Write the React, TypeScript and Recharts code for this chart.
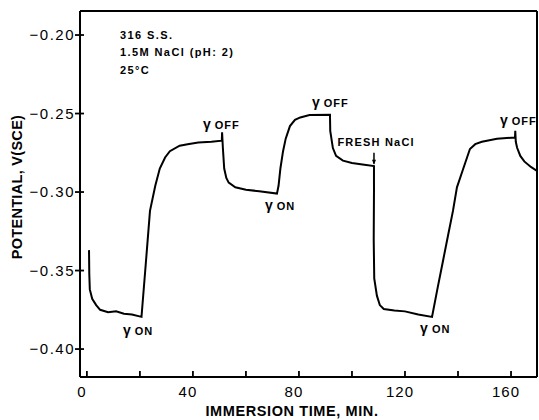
import React from 'react'
import { LineChart, Line, XAxis, YAxis, ReferenceLine, ReferenceDot } from 'recharts'

// immersion time (min) vs potential (V vs SCE)
const times = [
  0.8, 0.9, 1.1, 2, 3.5, 5, 8, 11, 14, 17, 20.6,
  22.2, 23.8, 25.8, 27.5, 29.5, 31.3, 35, 38, 42, 47, 50.9,
  51, 51.3, 51.8, 52.6, 53.5, 56, 60, 65, 71.7,
  72.3, 73, 74, 75, 76.6, 78.5, 80.5, 84, 91.7,
  91.8, 92.8, 94, 96.6, 100, 104, 108.3,
  108.3, 108.2, 108.4, 109.4, 110.5, 112, 116, 120, 125, 130.2,
  132.2, 134.2, 136.2, 138.1, 139.6, 142, 144.5, 146.5, 149, 154.7, 161.5,
  161.6, 161.8, 162.3, 163.5, 165, 167.5, 169.8,
]
const potentials = [
  -0.337, -0.352, -0.362, -0.368, -0.372, -0.375, -0.3765, -0.376, -0.3775, -0.378, -0.3795,
  -0.346, -0.312, -0.296, -0.285, -0.278, -0.274, -0.2705, -0.2695, -0.2685, -0.268, -0.2673,
  -0.262, -0.272, -0.285, -0.291, -0.294, -0.297, -0.2985, -0.2995, -0.301,
  -0.296, -0.285, -0.274, -0.266, -0.258, -0.254, -0.2525, -0.251, -0.2508,
  -0.261, -0.272, -0.277, -0.28, -0.2815, -0.2825, -0.2835,
  -0.3, -0.33, -0.355, -0.366, -0.372, -0.3745, -0.3755, -0.376, -0.378, -0.3795,
  -0.362, -0.345, -0.328, -0.312, -0.297, -0.285, -0.2726, -0.2695, -0.268, -0.266, -0.2653,
  -0.261, -0.268, -0.2718, -0.277, -0.2805, -0.284, -0.2865,
]

const xTicks = [0, 20, 40, 60, 80, 100, 120, 140, 160]
const yTicks = [-0.4, -0.35, -0.3, -0.25, -0.2]

const notes = [
  { t: 12.5, v: -0.2026, text: '316 S.S.' },
  { t: 12.5, v: -0.2135, text: '1.5M NaCl (pH: 2)' },
  { t: 12.5, v: -0.2248, text: '25°C' },
]
const gammaLabels = [
  { t: 13.6, v: -0.391, state: 'ON' },
  { t: 43.8, v: -0.2596, state: 'OFF' },
  { t: 67.2, v: -0.3115, state: 'ON' },
  { t: 84.9, v: -0.246, state: 'OFF' },
  { t: 125.7, v: -0.39, state: 'ON' },
  { t: 155.8, v: -0.257, state: 'OFF' },
]
const freshNote = { t: 94.5, v: -0.2705, text: 'FRESH NaCl' }
const freshArrow = { t: 108.3, v: -0.275 }

const data = times.map((t, i) => ({ t, v: potentials[i] }))

const X_MIN = -2.6
const X_MAX = 169.8
const Y_MIN = -0.4178
const Y_MAX = -0.1847

const FONT = '"Liberation Sans", Arial, Helvetica, sans-serif'

const fmtY = (v: number) => '−' + Math.abs(v).toFixed(2)

function XTick(props: any) {
  const { x, y, payload } = props
  const show = payload.value % 40 === 0
  return (
    <g>
      <line x1={x} y1={y} x2={x} y2={y - 6} stroke="#000" strokeWidth={1.8} />
      {show && (
        <text x={x - 5} y={y + 20} textAnchor="middle" fontSize={15} letterSpacing={1} fill="#000" fontFamily={FONT}>
          {payload.value}
        </text>
      )}
    </g>
  )
}

function YTick(props: any) {
  const { x, y, payload } = props
  return (
    <g>
      <line x1={x - 5} y1={y} x2={x + 4} y2={y} stroke="#000" strokeWidth={1.8} />
      <text x={x - 5} y={y + 5} textAnchor="end" fontSize={15} letterSpacing={1.5} fill="#000" fontFamily={FONT}>
        {fmtY(payload.value)}
      </text>
    </g>
  )
}

export default function App() {
  return (
    <div style={{ position: 'absolute', left: 0, top: 0, background: '#fff' }}>
      <LineChart width={539} height={420} data={data} margin={{ top: 11, right: 2, left: 0, bottom: 0 }}>
        <XAxis
          dataKey="t"
          type="number"
          domain={[X_MIN, X_MAX]}
          ticks={xTicks}
          allowDataOverflow
          height={43}
          tickSize={0}
          tickMargin={0}
          tick={<XTick />}
          axisLine={{ stroke: '#000', strokeWidth: 2 }}
          tickLine={false}
          interval={0}
        />
        <YAxis
          type="number"
          domain={[Y_MIN, Y_MAX]}
          ticks={yTicks}
          allowDataOverflow
          width={80}
          tickSize={0}
          tickMargin={0}
          tick={<YTick />}
          axisLine={{ stroke: '#000', strokeWidth: 2 }}
          tickLine={false}
          interval={0}
        />
        <ReferenceLine y={Y_MAX} stroke="#000" strokeWidth={2} />
        <ReferenceLine x={X_MAX} stroke="#000" strokeWidth={2} />
        <Line
          dataKey="v"
          type="linear"
          stroke="#000"
          strokeWidth={2}
          dot={false}
          isAnimationActive={false}
        />
        {notes.map((n, i) => (
          <ReferenceDot
            key={'n' + i}
            x={n.t}
            y={n.v}
            r={0}
            shape={(p: any) => (
              <text x={p.cx} y={p.cy} fontSize={11} fontWeight="bold" letterSpacing={1.4} fill="#000" fontFamily={FONT}>
                {n.text}
              </text>
            )}
          />
        ))}
        {gammaLabels.map((g, i) => (
          <ReferenceDot
            key={'g' + i}
            x={g.t}
            y={g.v}
            r={0}
            shape={(p: any) => (
              <text x={p.cx} y={p.cy} fontSize={11} fontWeight="bold" letterSpacing={1} fill="#000" fontFamily={FONT}>
                <tspan fontSize={14}>γ</tspan>
                <tspan dx={3}>{g.state}</tspan>
              </text>
            )}
          />
        ))}
        <ReferenceDot
          x={freshNote.t}
          y={freshNote.v}
          r={0}
          shape={(p: any) => (
            <text x={p.cx} y={p.cy} fontSize={11} fontWeight="bold" letterSpacing={1.2} fill="#000" fontFamily={FONT}>
              {freshNote.text}
            </text>
          )}
        />
        <ReferenceDot
          x={freshArrow.t}
          y={freshArrow.v}
          r={0}
          shape={(p: any) => (
            <g>
              <line x1={p.cx} y1={p.cy} x2={p.cx} y2={p.cy + 11} stroke="#000" strokeWidth={1.5} />
              <path d={`M${p.cx - 2},${p.cy + 7} L${p.cx + 2},${p.cy + 7} L${p.cx},${p.cy + 12} Z`} fill="#000" />
            </g>
          )}
        />
        <text x={292} y={416} textAnchor="middle" fontSize={14.5} fontWeight="bold" letterSpacing={0.6} fill="#000" fontFamily={FONT}>
          IMMERSION TIME, MIN.
        </text>
        <text
          x={22}
          y={187}
          textAnchor="middle"
          fontSize={14.5}
          fontWeight="bold"
          letterSpacing={0.3}
          fill="#000"
          fontFamily={FONT}
          transform="rotate(-90 22 187)"
        >
          POTENTIAL, V(SCE)
        </text>
      </LineChart>
    </div>
  )
}
